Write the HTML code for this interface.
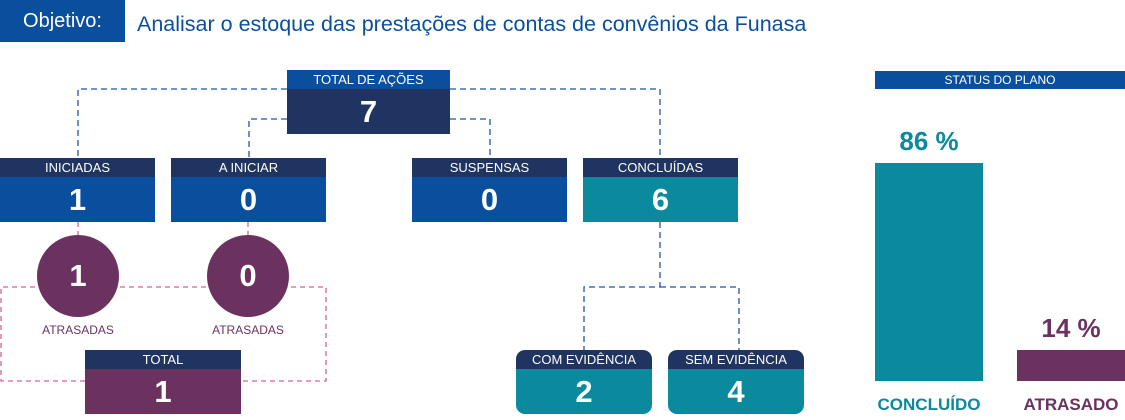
<!DOCTYPE html>
<html><head><meta charset="utf-8"><style>
body{margin:0;width:1125px;height:420px;background:#fff;position:relative;overflow:hidden;font-family:"Liberation Sans","DejaVu Sans",sans-serif}
.a{position:absolute}
.box{position:absolute;color:#fff;text-align:center}
.box .h{background:#1f3461;height:19px;line-height:20px;font-size:13px}
.box .n{font-size:31px;font-weight:bold;line-height:45px;height:45px}
.blue .n{background:#0a4f9e}
.teal .n{background:#0a8a9c}
.purp .n{background:#6b3260}
.navy .n{background:#1f3461}
.rnd{border-radius:9px;overflow:hidden}
.c{position:absolute;width:82px;height:82px;border-radius:50%;background:#6b3260;color:#fff;font-weight:bold;font-size:31px;line-height:82px;text-align:center}
.lab{position:absolute;color:#6b3260;font-size:12px;width:100px;text-align:center}
</style></head><body>
<div class="a" style="left:0;top:0;width:125px;height:42px;background:#0a4f9e;color:#fff;font-size:20px;line-height:42px;text-align:center">Objetivo:</div>
<div class="a" style="left:137px;top:0;height:42px;line-height:48px;font-size:21.5px;color:#0a4f9e;white-space:nowrap">Analisar o estoque das prestações de contas de convênios da Funasa</div>
<svg class="a" style="left:0;top:0" width="1125" height="420">
<g fill="none" stroke="#1f56a8" stroke-width="1.3" stroke-dasharray="6,4">
<path d="M287 89H78V158"/><path d="M450 89H660V158"/>
<path d="M287 119H249V158"/><path d="M450 119H490V158"/>
<path d="M660 222V287H584V350"/><path d="M660 287H739V350"/>
</g>
<g fill="none" stroke="#d6609a" stroke-width="1.3" stroke-dasharray="5,4">
<path d="M78 222V240"/><path d="M248 222V240"/>
<path d="M85 381H1V287H326V381H241"/>
</g>
</svg>
<div class="box navy" style="left:287px;top:70px;width:163px"><div class="h" style="background:#0a4f9e">TOTAL DE AÇÕES</div><div class="n">7</div></div>
<div class="box blue" style="left:0;top:158px;width:155px"><div class="h">INICIADAS</div><div class="n">1</div></div>
<div class="box blue" style="left:171px;top:158px;width:155px"><div class="h">A INICIAR</div><div class="n">0</div></div>
<div class="box blue" style="left:412px;top:158px;width:155px"><div class="h">SUSPENSAS</div><div class="n">0</div></div>
<div class="box teal" style="left:583px;top:158px;width:155px"><div class="h">CONCLUÍDAS</div><div class="n">6</div></div>
<div class="c" style="left:37px;top:235px">1</div>
<div class="c" style="left:207px;top:235px">0</div>
<div class="lab" style="left:28px;top:323px">ATRASADAS</div>
<div class="lab" style="left:198px;top:323px">ATRASADAS</div>
<div class="box purp" style="left:85px;top:350px;width:156px"><div class="h">TOTAL</div><div class="n">1</div></div>
<div class="box teal rnd" style="left:516px;top:350px;width:136px"><div class="h">COM EVIDÊNCIA</div><div class="n">2</div></div>
<div class="box teal rnd" style="left:668px;top:350px;width:136px"><div class="h">SEM EVIDÊNCIA</div><div class="n">4</div></div>
<div class="a" style="left:875px;top:71px;width:250px;height:18px;background:#0a4f9e;color:#fff;font-size:12px;line-height:18px;text-align:center">STATUS DO PLANO</div>
<div class="a" style="left:875px;top:126px;width:108px;text-align:center;color:#0a8a9c;font-weight:bold;font-size:26px">86 %</div>
<div class="a" style="left:875px;top:163px;width:108px;height:218px;background:#0a8a9c"></div>
<div class="a" style="left:1017px;top:313px;width:108px;text-align:center;color:#6b3260;font-weight:bold;font-size:26px">14 %</div>
<div class="a" style="left:1017px;top:350px;width:108px;height:31px;background:#6b3260"></div>
<div class="a" style="left:865px;top:395px;width:128px;text-align:center;color:#0a8a9c;font-weight:bold;font-size:17px">CONCLUÍDO</div>
<div class="a" style="left:1007px;top:395px;width:128px;text-align:center;color:#6b3260;font-weight:bold;font-size:17px">ATRASADO</div>
</body></html>
